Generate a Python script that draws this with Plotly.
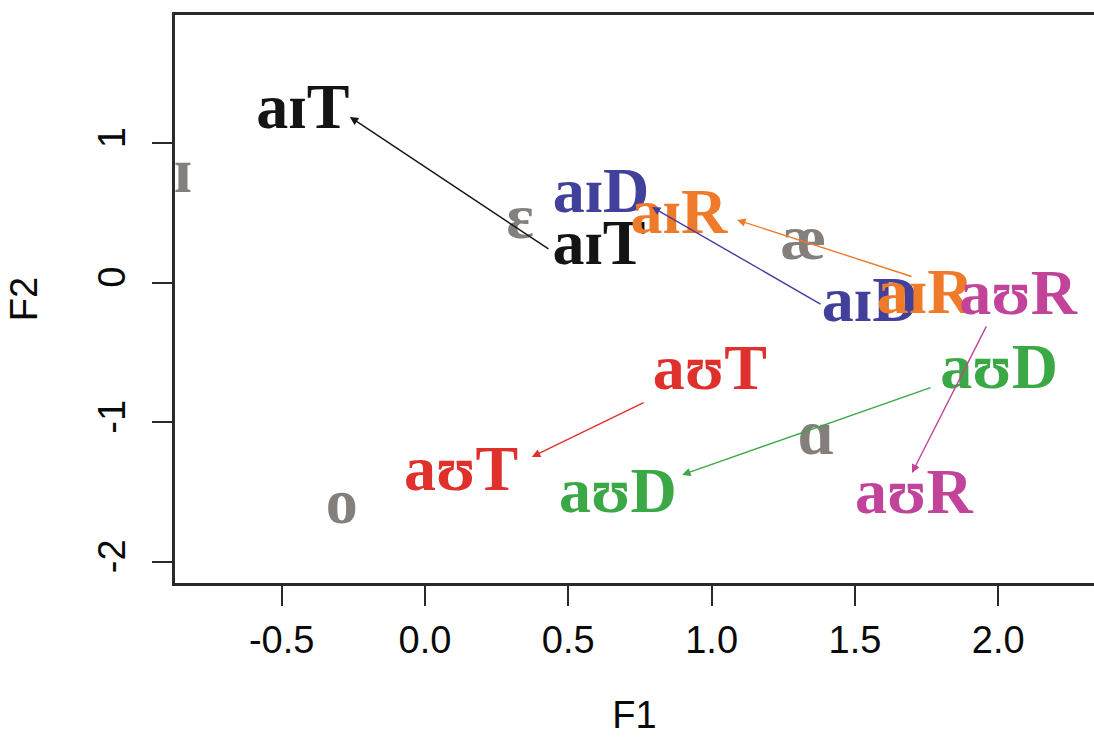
import plotly.graph_objects as go

# ---- data ----
labels = ["aɪT", "aɪT", "aɪD", "aɪD", "aɪR", "aɪR",
          "aʊR", "aʊR", "aʊD", "aʊD", "aʊT", "aʊT"]
label_x = [-0.426, 0.607, 0.614, 1.553, 0.886, 1.745,
           2.069, 1.706, 2.003, 0.673, 0.994, 0.126]
label_y = [1.226, 0.251, 0.624, -0.158, 0.473, -0.100,
           -0.108, -1.534, -0.638, -1.527, -0.645, -1.366]
label_colors = ["#141414", "#141414", "#41409a", "#41409a", "#ef7a2a", "#ef7a2a",
                "#c2449a", "#c2449a", "#3aa845", "#3aa845", "#e0302c", "#e0302c"]

vowels = ["ɪ", "ɛ", "æ", "ɑ", "o"]
vowel_x = [-0.844, 0.331, 1.320, 1.364, -0.290]
vowel_y = [0.767, 0.437, 0.287, -1.111, -1.606]
vowel_color = "#857f7b"

# arrows: tail -> head
arrow_x0 = [0.436, 1.385, 1.703, 1.961, 1.769, 0.768]
arrow_y0 = [0.237, -0.158, 0.043, -0.301, -0.746, -0.853]
arrow_x1 = [-0.262, 0.792, 1.089, 1.699, 0.897, 0.373]
arrow_y1 = [1.190, 0.545, 0.452, -1.362, -1.376, -1.247]
arrow_colors = ["#141414", "#41409a", "#ef7a2a", "#c2449a", "#3aa845", "#e0302c"]

x_ticks = [-0.5, 0.0, 0.5, 1.0, 1.5, 2.0]
x_tick_text = ["-0.5", "0.0", "0.5", "1.0", "1.5", "2.0"]
y_ticks = [-2, -1, 0, 1]
y_tick_text = ["-2", "-1", "0", "1"]

fig = go.Figure()

fig.add_trace(go.Scatter(
    x=vowel_x, y=vowel_y, mode="text", text=vowels,
    textposition="middle center",
    textfont=dict(family="Liberation Serif", size=64, color=vowel_color, weight="bold"),
    hoverinfo="skip", showlegend=False))

fig.add_trace(go.Scatter(
    x=label_x, y=label_y, mode="text", text=labels,
    textposition="middle center",
    textfont=dict(family="Liberation Serif", size=64, color=label_colors, weight="bold"),
    hoverinfo="skip", showlegend=False))

for x0, y0, x1, y1, c in zip(arrow_x0, arrow_y0, arrow_x1, arrow_y1, arrow_colors):
    fig.add_annotation(x=x1, y=y1, ax=x0, ay=y0, xref="x", yref="y",
                       axref="x", ayref="y", text="", showarrow=True,
                       arrowhead=2, arrowsize=1.2, arrowwidth=1.4, arrowcolor=c,
                       standoff=0, startstandoff=0)

axis_font = dict(family="Liberation Sans", size=38, color="#0a0a0a")

fig.update_layout(
    width=1094, height=740,
    margin=dict(l=175, r=0, t=15, b=157),
    paper_bgcolor="white", plot_bgcolor="white",
    xaxis=dict(range=[-0.872, 2.334], tickvals=x_ticks, ticktext=x_tick_text,
               showgrid=False, zeroline=False, showline=True, linecolor="#2a2a2a",
               linewidth=2.5, mirror=True, ticks="outside", ticklen=20, tickwidth=2,
               tickcolor="#2a2a2a", tickfont=axis_font, ticklabelstandoff=2,
               title=dict(text="F1", font=axis_font, standoff=42)),
    yaxis=dict(range=[-2.151, 1.921], tickvals=y_ticks, ticktext=y_tick_text,
               showgrid=False, zeroline=False, showline=True, linecolor="#2a2a2a",
               linewidth=2.5, mirror=False, ticks="outside", ticklen=20, tickwidth=2,
               tickcolor="#2a2a2a", tickfont=axis_font, tickangle=-90,
               ticklabelstandoff=12,
               title=dict(text="F2", font=axis_font, standoff=42)),
)

fig.write_html("out.html")
